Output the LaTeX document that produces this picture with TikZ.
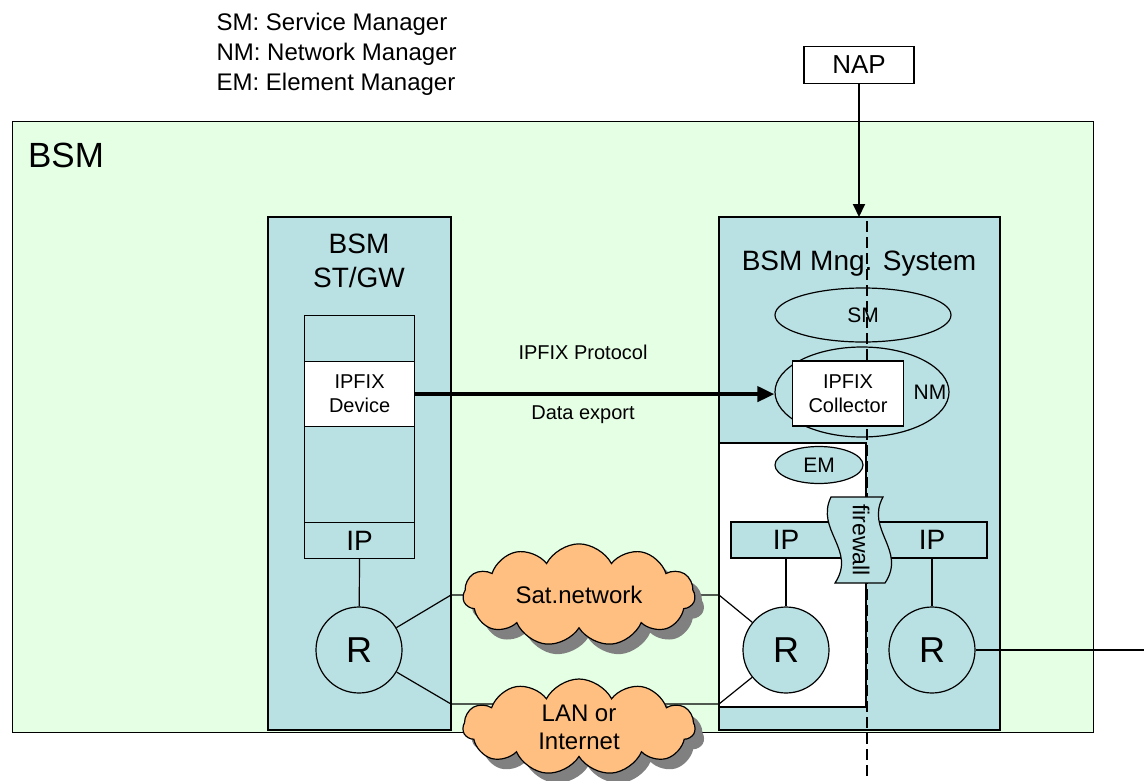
\documentclass[tikz,border=0pt]{standalone}
\usepackage{fontspec}
\setmainfont{Liberation Sans}
\usepackage{xcolor}
\usepackage{tikz}
\usetikzlibrary{positioning,arrows.meta,calc,shapes.geometric,shapes.symbols,shadows}

\definecolor{bsmgreen}{RGB}{229,255,229}
\definecolor{bsmteal}{RGB}{185,224,227}
\definecolor{netorange}{RGB}{255,191,128}

\begin{document}
\begin{tikzpicture}[
  x=1pt, y=-1pt, line width=1.2pt,
  panel/.style={draw, rectangle, fill=bsmteal, anchor=north west, inner sep=0pt, outer sep=0pt},
  layer/.style={draw, rectangle, fill=bsmteal, anchor=north west, minimum width=110, inner sep=0pt, align=center},
  mgr/.style={draw, ellipse, fill=bsmteal, inner sep=0pt, font=\fontsize{21}{24}\selectfont},
  rtr/.style={draw, circle, fill=bsmteal, minimum size=86, inner sep=0pt, font=\fontsize{36}{40}\selectfont},
  net/.style={draw, cloud, cloud puffs=11, cloud puff arc=125, aspect=2.4, fill=netorange,
    minimum width=232, minimum height=96, inner sep=0pt, align=center,
    font=\fontsize{24}{28}\selectfont,
    drop shadow={shadow xshift=9pt, shadow yshift=-10pt, fill=black!50, opacity=1}},
  txt/.style={inner sep=0pt, align=center},
  arr/.style={-{Triangle[length=13pt, width=12pt]}, line width=2pt},
  fat/.style={-{Triangle[length=17pt, width=15pt]}, line width=4pt}
]
  \useasboundingbox (0,0) rectangle (1144,780);

  % legend and outer area
  \node[txt, anchor=north west, align=left, font=\fontsize{24}{30}\selectfont] (legend) at (216,13)
    {SM: Service Manager\\NM: Network Manager\\EM: Element Manager};
  \node[draw, rectangle, fill=bsmgreen, anchor=north west, minimum width=1081, minimum height=611,
    inner sep=0pt] (bsm) at (12,121) {};
  \node[txt, font=\fontsize{35}{40}\selectfont] (bsmlbl) at (66,155) {BSM};
  \node[draw, rectangle, fill=white, minimum width=110, minimum height=37, inner sep=0pt,
    font=\fontsize{26}{30}\selectfont] (nap) at (859,65) {NAP};

  % ST/GW
  \node[panel, minimum width=183, minimum height=513] (stgw) at (268,217) {};
  \node[txt, anchor=north, font=\fontsize{28}{34}\selectfont] (stgwlbl) at (359,233) {BSM\\ST/GW};
  \node[layer, minimum height=46] (top) at (304,315) {};
  \node[layer, fill=white, minimum height=65, font=\fontsize{20}{24}\selectfont] (dev) at (304,361) {IPFIX\\Device};
  \node[layer, minimum height=96] (low) at (304,426) {};
  \node[layer, minimum height=36, font=\fontsize{28}{30}\selectfont] (ipL) at (304,522) {IP};
  \node[rtr] (rA) at (359,650) {R};

  % management system
  \node[panel, minimum width=281, minimum height=513] (mng) at (719,217) {};
  \node[txt, anchor=base, font=\fontsize{28}{34}\selectfont] (mnglbl) at (859,270) {BSM Mng. System};
  \node[panel, fill=white, minimum width=147, minimum height=264] (emwin) at (719,443) {};
  \node[mgr, minimum width=176, minimum height=54] (sm) at (863,315) {SM};
  \node[mgr, minimum width=174, minimum height=90] (nm) at (862,392) {};
  \node[txt, font=\fontsize{21}{24}\selectfont] (nmlbl) at (930,392) {NM};
  \node[mgr, minimum width=88, minimum height=37] (em) at (819,465) {EM};
  \node[draw, rectangle, fill=bsmteal, minimum width=256, minimum height=36, inner sep=0pt] (ipbar) at (859,540) {};
  \node[txt, font=\fontsize{28}{30}\selectfont] (ipB) at (786,540) {IP};
  \node[txt, font=\fontsize{28}{30}\selectfont] (ipC) at (932,540) {IP};
  \node[rtr] (rB) at (786,650) {R};
  \node[rtr] (rC) at (932,650) {R};

  % firewall line
  \coordinate (fwtop) at (867,221);
  \coordinate (fwbot) at (867,778);
  \draw[line width=2pt, dash pattern=on 11pt off 5pt] (fwtop) -- (fwbot);

  \node[draw, rectangle, fill=white, minimum width=111, minimum height=65, inner sep=0pt,
    align=center, font=\fontsize{20}{24}\selectfont] (coll) at (848,393.5) {IPFIX\\Collector};
  \draw[fill=bsmteal] (831,497) .. controls (815,530) and (857,550) .. (835,583)
    -- (885,583) .. controls (907,550) and (865,530) .. (883,497) -- cycle;
  \node[txt, rotate=-90, font=\fontsize{23}{24}\selectfont] (fw) at (861,540) {firewall};

  % links
  \coordinate (satL) at (579,595);
  \coordinate (lanL) at (579,704);
  \coordinate (exit) at (1144,650);
  \draw (ipL) -- (rA);
  \draw (ipbar.south -| rB) -- (rB);
  \draw (ipbar.south -| rC) -- (rC);
  \draw (rA) -- (stgw.east |- satL) -- (satL) -- (mng.west |- satL) -- (rB);
  \draw (rA) -- (stgw.east |- lanL) -- (lanL) -- (mng.west |- lanL) -- (rB);
  \draw (rC) -- (exit);

  \node[net] (sat) at (579,595) {Sat.network};
  \node[net] (lan) at (579,727) {LAN or\\Internet};

  % data flow
  \draw[fat] (dev.east) -- (dev.east -| nm.west);
  \node[txt, anchor=base, font=\fontsize{20}{24}\selectfont] (proto) at (583,359) {IPFIX Protocol};
  \node[txt, anchor=base, font=\fontsize{20}{24}\selectfont] (export) at (583,419) {Data export};
  \draw[arr] (nap) -- (nap |- mng.north);
\end{tikzpicture}
\end{document}
